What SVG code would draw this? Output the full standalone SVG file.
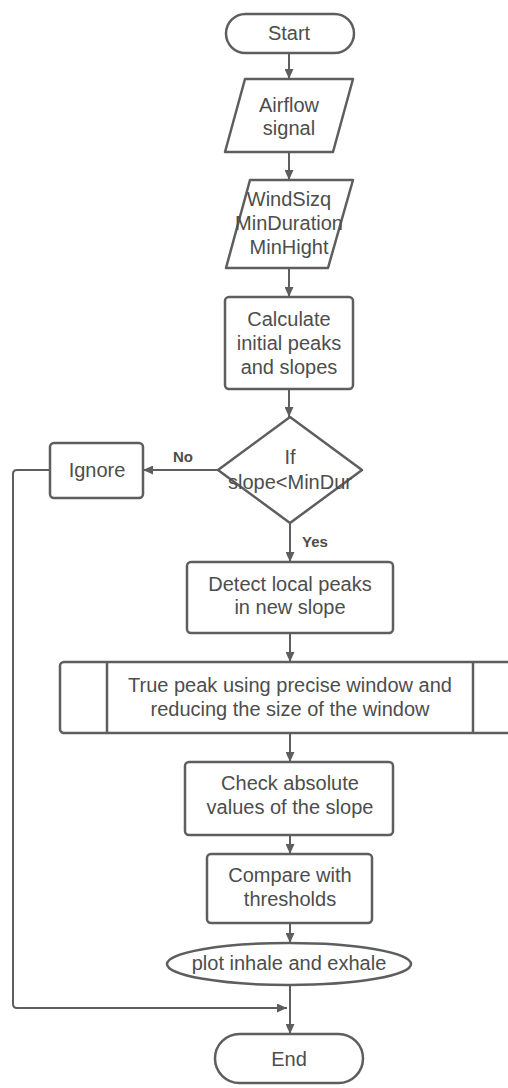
<svg xmlns="http://www.w3.org/2000/svg" width="508" height="1088" viewBox="0 0 508 1088">
<style>
.s{fill:#fff;stroke:#5e5e5e;stroke-width:2.5}
.t{font-family:"Liberation Sans",Arial,sans-serif;font-size:20px;fill:#4d4d4d;text-anchor:middle;dominant-baseline:central}
.l{font-family:"Liberation Sans",Arial,sans-serif;font-size:15px;font-weight:bold;fill:#4d4d4d;dominant-baseline:central}
.c{fill:none;stroke:#5e5e5e;stroke-width:2}
</style>
<defs>
<marker id="ah" markerUnits="userSpaceOnUse" markerWidth="10" markerHeight="9" refX="10" refY="4.5" orient="auto">
<path d="M0,0 L10,4.5 L0,9 z" fill="#5e5e5e"/>
</marker>
</defs>
<rect width="508" height="1088" fill="#fff"/>
<g id="connectors">
<path class="c" d="M289,53 V79" marker-end="url(#ah)"/>
<path class="c" d="M289,152 V180" marker-end="url(#ah)"/>
<path class="c" d="M289,268 V297" marker-end="url(#ah)"/>
<path class="c" d="M289,389 V417" marker-end="url(#ah)"/>
<path class="c" d="M218,470 H143" marker-end="url(#ah)"/>
<path class="c" d="M290,523 V562" marker-end="url(#ah)"/>
<path class="c" d="M290,633 V662" marker-end="url(#ah)"/>
<path class="c" d="M290,733 V762" marker-end="url(#ah)"/>
<path class="c" d="M290,835 V854" marker-end="url(#ah)"/>
<path class="c" d="M290,923 V943" marker-end="url(#ah)"/>
<path class="c" d="M290,985 V1034" marker-end="url(#ah)"/>
<path class="c" d="M50,470 H17 Q13,470 13,474 V1004 Q13,1008 17,1008 H287" marker-end="url(#ah)"/>
<text class="l" x="173" y="456">No</text>
<text class="l" x="302" y="541">Yes</text>
</g>
<g id="start">
<rect class="s" x="226" y="14" width="128" height="39" rx="19.5"/>
<text class="t" x="289" y="33">Start</text>
</g>
<g id="airflow">
<path class="s" d="M245,79 H353 L333,152 H225 Z" stroke-linejoin="round"/>
<text class="t" x="289" y="105">Airflow</text>
<text class="t" x="289" y="128">signal</text>
</g>
<g id="params">
<path class="s" d="M250,180 H353 L328,268 H226 Z" stroke-linejoin="round"/>
<text class="t" x="289" y="199">WindSizq</text>
<text class="t" x="289" y="223">MinDuration</text>
<text class="t" x="289" y="247">MinHight</text>
</g>
<g id="calculate">
<rect class="s" x="225" y="297" width="128" height="92" rx="4"/>
<text class="t" x="289" y="319">Calculate</text>
<text class="t" x="289" y="343">initial peaks</text>
<text class="t" x="289" y="367">and slopes</text>
</g>
<g id="decision">
<path class="s" d="M290,417 L362,470 L290,523 L218,470 Z" stroke-linejoin="round"/>
<text class="t" x="290" y="457">If</text>
<text class="t" x="290" y="482">slope&lt;MinDur</text>
</g>
<g id="ignore">
<rect class="s" x="50" y="443" width="93" height="55" rx="4"/>
<text class="t" x="97" y="470">Ignore</text>
</g>
<g id="detect">
<rect class="s" x="187" y="562" width="206" height="71" rx="4"/>
<text class="t" x="290" y="584">Detect local peaks</text>
<text class="t" x="290" y="607">in new slope</text>
</g>
<g id="truepeak">
<rect class="s" x="60" y="662" width="460" height="71" rx="4"/>
<line class="s" x1="107" y1="662" x2="107" y2="733"/>
<line class="s" x1="473" y1="662" x2="473" y2="733"/>
<text class="t" x="290" y="685">True peak using precise window and</text>
<text class="t" x="290" y="709">reducing the size of the window</text>
</g>
<g id="check">
<rect class="s" x="185" y="762" width="208" height="73" rx="4"/>
<text class="t" x="290" y="783">Check absolute</text>
<text class="t" x="290" y="807">values of the slope</text>
</g>
<g id="compare">
<rect class="s" x="207" y="854" width="165" height="69" rx="4"/>
<text class="t" x="290" y="875">Compare with</text>
<text class="t" x="290" y="899">thresholds</text>
</g>
<g id="plot">
<ellipse class="s" cx="289" cy="964" rx="122" ry="21"/>
<text class="t" x="289" y="963">plot inhale and exhale</text>
</g>
<g id="end">
<rect class="s" x="215" y="1034" width="148" height="49" rx="24.5"/>
<text class="t" x="289" y="1059">End</text>
</g>
</svg>
